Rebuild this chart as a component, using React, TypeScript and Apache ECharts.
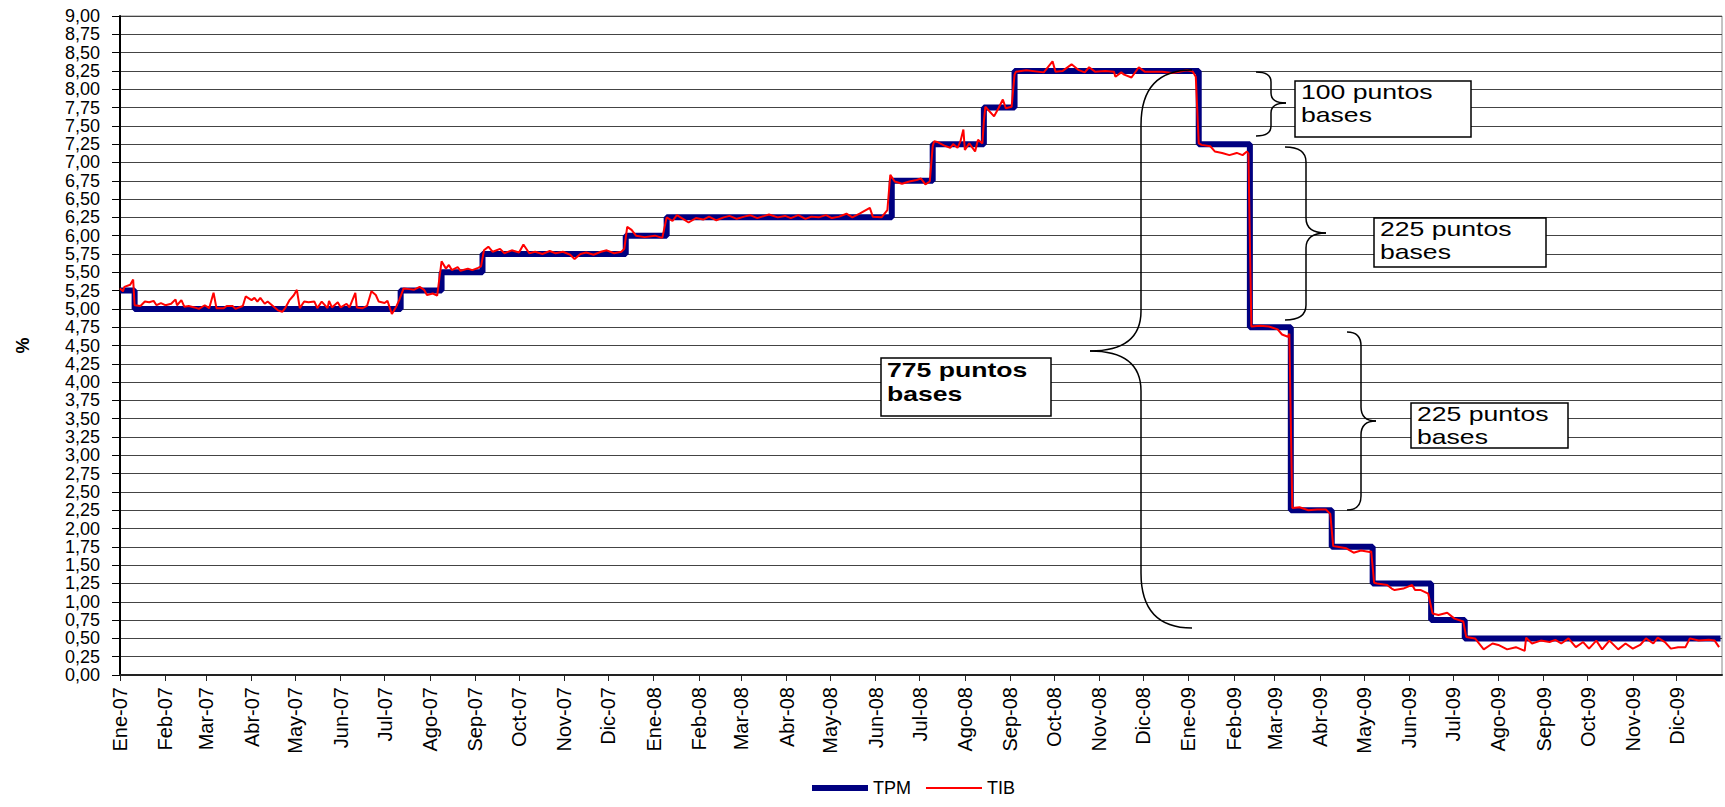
import React, { useEffect, useRef } from "react";
import * as echarts from "echarts";

const MONTHS = ["Ene", "Feb", "Mar", "Abr", "May", "Jun", "Jul", "Ago", "Sep", "Oct", "Nov", "Dic"];
const X_START = "2007-01-01";
const X_END = "2010-01-01";
const Y_MIN = 0;
const Y_MAX = 9;
const Y_STEP = 0.25;

// TPM (policy rate) change dates and values
const TPM_DATES = [
  "2007-01-01", "2007-01-11", "2007-07-12", "2007-08-09", "2007-09-06", "2007-12-13",
  "2008-01-10", "2008-06-12", "2008-07-10", "2008-08-14", "2008-09-04", "2009-01-08",
  "2009-02-12", "2009-03-12", "2009-04-09", "2009-05-07", "2009-06-16", "2009-07-09", "2009-12-31",
];
const TPM_VALUES = [
  5.25, 5.0, 5.25, 5.5, 5.75, 6.0,
  6.25, 6.75, 7.25, 7.75, 8.25, 7.25,
  4.75, 2.25, 1.75, 1.25, 0.75, 0.5, 0.5,
];

// TIB (interbank rate) readings
const TIB_DATES = [
  "2007-01-01", "2007-01-03", "2007-01-04", "2007-01-08", "2007-01-10", "2007-01-11", "2007-01-15", "2007-01-18",
  "2007-01-21", "2007-01-24", "2007-01-26", "2007-01-29", "2007-02-01", "2007-02-05", "2007-02-08", "2007-02-09",
  "2007-02-12", "2007-02-14", "2007-02-17", "2007-02-21", "2007-02-24", "2007-02-28", "2007-03-03", "2007-03-06",
  "2007-03-08", "2007-03-13", "2007-03-15", "2007-03-19", "2007-03-21", "2007-03-26", "2007-03-28", "2007-04-01",
  "2007-04-03", "2007-04-05", "2007-04-07", "2007-04-10", "2007-04-12", "2007-04-15", "2007-04-19", "2007-04-22",
  "2007-04-24", "2007-04-27", "2007-04-30", "2007-05-02", "2007-05-04", "2007-05-07", "2007-05-10", "2007-05-14",
  "2007-05-16", "2007-05-19", "2007-05-23", "2007-05-24", "2007-05-26", "2007-05-30", "2007-06-01", "2007-06-05",
  "2007-06-07", "2007-06-11", "2007-06-12", "2007-06-16", "2007-06-19", "2007-06-22", "2007-06-25", "2007-06-27",
  "2007-07-01", "2007-07-03", "2007-07-06", "2007-07-09", "2007-07-11", "2007-07-14", "2007-07-18", "2007-07-21",
  "2007-07-25", "2007-07-28", "2007-07-30", "2007-08-03", "2007-08-06", "2007-08-09", "2007-08-12", "2007-08-14",
  "2007-08-16", "2007-08-20", "2007-08-22", "2007-08-27", "2007-08-30", "2007-09-03", "2007-09-05", "2007-09-07",
  "2007-09-10", "2007-09-13", "2007-09-18", "2007-09-21", "2007-09-26", "2007-10-01", "2007-10-04", "2007-10-08",
  "2007-10-12", "2007-10-17", "2007-10-22", "2007-10-26", "2007-10-31", "2007-11-05", "2007-11-08", "2007-11-12",
  "2007-11-16", "2007-11-21", "2007-11-26", "2007-11-30", "2007-12-05", "2007-12-10", "2007-12-12", "2007-12-14",
  "2007-12-17", "2007-12-20", "2007-12-26", "2008-01-02", "2008-01-07", "2008-01-10", "2008-01-14", "2008-01-17",
  "2008-01-22", "2008-01-25", "2008-01-30", "2008-02-04", "2008-02-08", "2008-02-13", "2008-02-18", "2008-02-22",
  "2008-02-27", "2008-03-03", "2008-03-07", "2008-03-12", "2008-03-17", "2008-03-20", "2008-03-26", "2008-03-31",
  "2008-04-04", "2008-04-09", "2008-04-14", "2008-04-18", "2008-04-23", "2008-04-28", "2008-05-02", "2008-05-07",
  "2008-05-12", "2008-05-16", "2008-05-21", "2008-05-28", "2008-05-30", "2008-06-05", "2008-06-09", "2008-06-11",
  "2008-06-14", "2008-06-19", "2008-06-24", "2008-06-29", "2008-07-02", "2008-07-05", "2008-07-08", "2008-07-10",
  "2008-07-11", "2008-07-13", "2008-07-18", "2008-07-22", "2008-07-24", "2008-07-27", "2008-07-29", "2008-07-31",
  "2008-08-01", "2008-08-04", "2008-08-08", "2008-08-10", "2008-08-13", "2008-08-14", "2008-08-15", "2008-08-21",
  "2008-08-24", "2008-08-27", "2008-08-29", "2008-09-02", "2008-09-04", "2008-09-05", "2008-09-12", "2008-09-24",
  "2008-09-30", "2008-10-02", "2008-10-07", "2008-10-13", "2008-10-18", "2008-10-22", "2008-10-25", "2008-10-29",
  "2008-11-05", "2008-11-11", "2008-11-12", "2008-11-16", "2008-11-18", "2008-11-23", "2008-11-28", "2008-12-02",
  "2008-12-14", "2008-12-21", "2008-12-31", "2009-01-04", "2009-01-06", "2009-01-08", "2009-01-10", "2009-01-16",
  "2009-01-19", "2009-01-24", "2009-01-29", "2009-02-03", "2009-02-07", "2009-02-10", "2009-02-11", "2009-02-13",
  "2009-02-19", "2009-02-25", "2009-03-03", "2009-03-06", "2009-03-10", "2009-03-11", "2009-03-13", "2009-03-18",
  "2009-03-24", "2009-03-30", "2009-04-05", "2009-04-08", "2009-04-10", "2009-04-13", "2009-04-19", "2009-04-24",
  "2009-04-29", "2009-05-05", "2009-05-06", "2009-05-08", "2009-05-10", "2009-05-17", "2009-05-20", "2009-05-22",
  "2009-05-28", "2009-06-03", "2009-06-05", "2009-06-09", "2009-06-14", "2009-06-17", "2009-06-21", "2009-06-27",
  "2009-07-02", "2009-07-08", "2009-07-10", "2009-07-16", "2009-07-22", "2009-07-28", "2009-08-01", "2009-08-07",
  "2009-08-13", "2009-08-19", "2009-08-20", "2009-08-24", "2009-08-30", "2009-09-05", "2009-09-09", "2009-09-13",
  "2009-09-18", "2009-09-23", "2009-09-28", "2009-10-02", "2009-10-07", "2009-10-11", "2009-10-16", "2009-10-22",
  "2009-10-27", "2009-11-01", "2009-11-06", "2009-11-10", "2009-11-15", "2009-11-18", "2009-11-23", "2009-11-27",
  "2009-12-02", "2009-12-07", "2009-12-10", "2009-12-16", "2009-12-23", "2009-12-27", "2009-12-30",
];
const TIB_VALUES = [
  5.28, 5.24, 5.3, 5.33, 5.4, 5.05, 5.04, 5.1,
  5.09, 5.11, 5.05, 5.08, 5.05, 5.07, 5.13, 5.05,
  5.12, 5.03, 5.04, 5.02, 5.0, 5.05, 5.01, 5.22,
  5.01, 5.01, 5.04, 5.04, 5.0, 5.04, 5.17, 5.12,
  5.15, 5.1, 5.15, 5.07, 5.1, 5.05, 4.98, 4.96,
  5.01, 5.12, 5.19, 5.26, 5.01, 5.1, 5.09, 5.1,
  5.01, 5.1, 5.01, 5.11, 5.02, 5.09, 5.02, 5.07,
  5.02, 5.22, 5.02, 5.01, 5.04, 5.24, 5.19, 5.1,
  5.08, 5.11, 4.93, 5.03, 5.12, 5.28, 5.27, 5.26,
  5.3, 5.26, 5.19, 5.21, 5.18, 5.65, 5.55, 5.6,
  5.53, 5.57, 5.52, 5.55, 5.53, 5.56, 5.58, 5.8,
  5.85, 5.78, 5.82, 5.76, 5.8, 5.77, 5.88, 5.76,
  5.78, 5.75, 5.79, 5.76, 5.78, 5.74, 5.68, 5.75,
  5.77, 5.74, 5.78, 5.8, 5.76, 5.78, 5.82, 6.12,
  6.08, 6.0, 5.98, 6.0, 5.97, 6.25, 6.2, 6.28,
  6.22, 6.18, 6.24, 6.22, 6.26, 6.21, 6.25, 6.27,
  6.23, 6.26, 6.28, 6.24, 6.27, 6.29, 6.25, 6.27,
  6.24, 6.28, 6.23, 6.26, 6.25, 6.28, 6.24, 6.26,
  6.3, 6.25, 6.3, 6.38, 6.26, 6.25, 6.35, 6.83,
  6.74, 6.71, 6.74, 6.76, 6.78, 6.7, 6.74, 7.22,
  7.29, 7.28, 7.23, 7.2, 7.25, 7.2, 7.29, 7.45,
  7.17, 7.26, 7.15, 7.31, 7.26, 7.56, 7.76, 7.63,
  7.74, 7.86, 7.74, 7.76, 8.2, 8.24, 8.26, 8.23,
  8.38, 8.24, 8.25, 8.34, 8.26, 8.23, 8.3, 8.24,
  8.25, 8.24, 8.17, 8.23, 8.2, 8.16, 8.3, 8.24,
  8.24, 8.22, 8.26, 8.24, 8.17, 7.26, 7.24, 7.22,
  7.15, 7.13, 7.1, 7.13, 7.1, 7.15, 7.12, 4.76,
  4.77, 4.76, 4.72, 4.65, 4.62, 4.66, 2.28, 2.29,
  2.25, 2.26, 2.26, 2.2, 1.76, 1.75, 1.73, 1.67,
  1.7, 1.68, 1.69, 1.26, 1.25, 1.23, 1.18, 1.16,
  1.18, 1.23, 1.16, 1.16, 1.11, 0.84, 0.82, 0.85,
  0.77, 0.73, 0.52, 0.5, 0.35, 0.43, 0.41, 0.35,
  0.38, 0.33, 0.51, 0.43, 0.47, 0.45, 0.48, 0.43,
  0.5, 0.38, 0.45, 0.36, 0.47, 0.35, 0.47, 0.35,
  0.43, 0.36, 0.41, 0.5, 0.43, 0.51, 0.45, 0.36,
  0.38, 0.38, 0.5, 0.47, 0.48, 0.47, 0.38,
];

// Annotation texts
const NOTE_TEXTS = ["100 puntos\nbases", "225 puntos\nbases", "775 puntos\nbases", "225 puntos\nbases"];

const FONT = "Arial, 'Liberation Sans', Helvetica, sans-serif";

function pad(n: number): string {
  return n < 10 ? "0" + n : String(n);
}

// Daily category list spanning the axis range
function dayCategories(start: string, end: string): string[] {
  const [ys, ms, ds] = start.split("-").map(Number);
  const [ye, me, de] = end.split("-").map(Number);
  const cur = new Date(ys, ms - 1, ds, 12);
  const last = new Date(ye, me - 1, de, 12).getTime();
  const out: string[] = [];
  while (cur.getTime() <= last) {
    out.push(cur.getFullYear() + "-" + pad(cur.getMonth() + 1) + "-" + pad(cur.getDate()));
    cur.setDate(cur.getDate() + 1);
  }
  return out;
}

type Brace = { x0: number; yTop: number; yBot: number; xs: number; xt: number; ym: number; rEnd: number; rTip: number; w: number };

function braceElements(b: Brace): any[] {
  const style = { stroke: "#000", lineWidth: b.w, fill: null };
  const z = 50;
  return [
    { type: "bezierCurve", z, shape: { x1: b.x0, y1: b.yTop, cpx1: b.xs, cpy1: b.yTop, x2: b.xs, y2: b.yTop + b.rEnd }, style },
    { type: "line", z, shape: { x1: b.xs, y1: b.yTop + b.rEnd, x2: b.xs, y2: b.ym - b.rTip }, style },
    { type: "bezierCurve", z, shape: { x1: b.xs, y1: b.ym - b.rTip, cpx1: b.xs, cpy1: b.ym, x2: b.xt, y2: b.ym }, style },
    { type: "bezierCurve", z, shape: { x1: b.xt, y1: b.ym, cpx1: b.xs, cpy1: b.ym, x2: b.xs, y2: b.ym + b.rTip }, style },
    { type: "line", z, shape: { x1: b.xs, y1: b.ym + b.rTip, x2: b.xs, y2: b.yBot - b.rEnd }, style },
    { type: "bezierCurve", z, shape: { x1: b.xs, y1: b.yBot - b.rEnd, cpx1: b.xs, cpy1: b.yBot, x2: b.x0, y2: b.yBot }, style },
  ];
}

function noteBox(x: number, y: number, w: number, h: number, text: string, bold: boolean, lh: number): any[] {
  return [
    { type: "rect", z: 60, shape: { x, y, width: w, height: h }, style: { fill: "#fff", stroke: "#000", lineWidth: 1.5 } },
    {
      type: "text",
      z: 61,
      x: x + 6,
      y: y,
      scaleX: 1.33,
      style: {
        text,
        fontFamily: FONT,
        fontSize: 20,
        fontWeight: bold ? "bold" : "normal",
        lineHeight: lh,
        fill: "#000",
        verticalAlign: "top",
        align: "left",
      },
    },
  ];
}

export default function App() {
  const ref = useRef<HTMLDivElement>(null);

  useEffect(() => {
    document.body.style.margin = "0";
    const chart = echarts.init(ref.current!, null, { renderer: "svg" });
    const cats = dayCategories(X_START, X_END);
    const isMonthStart = (_i: number, v: string) => v.slice(8) === "01" && v < "2010-01-01";

    const graphics: any[] = [
      ...braceElements({ x0: 1192, yTop: 70, yBot: 628, xs: 1141, xt: 1090, ym: 351, rEnd: 55, rTip: 40, w: 1.5 }),
      ...braceElements({ x0: 1256, yTop: 72, yBot: 136, xs: 1271, xt: 1286, ym: 103, rEnd: 10, rTip: 10, w: 1.5 }),
      ...braceElements({ x0: 1285, yTop: 147, yBot: 320, xs: 1306, xt: 1326, ym: 233, rEnd: 15, rTip: 15, w: 1.5 }),
      ...braceElements({ x0: 1347, yTop: 332, yBot: 510, xs: 1361, xt: 1376, ym: 421, rEnd: 14, rTip: 14, w: 1.5 }),
      ...noteBox(1295, 81, 176, 56, NOTE_TEXTS[0], false, 23),
      ...noteBox(1374, 218, 172, 49, NOTE_TEXTS[1], false, 23),
      ...noteBox(881, 358, 170, 58, NOTE_TEXTS[2], true, 24),
      ...noteBox(1411, 403, 157, 45, NOTE_TEXTS[3], false, 23),
    ];

    chart.setOption({
      animation: false,
      backgroundColor: "#fff",
      textStyle: { fontFamily: FONT },
      grid: { left: 120, right: 3, top: 16, bottom: 132, show: true, borderColor: "#888", borderWidth: 1, containLabel: false },
      legend: {
        data: [
          { name: "TPM", lineStyle: { width: 6, color: "#000080" } },
          { name: "TIB", lineStyle: { width: 2, color: "#ff0000" } },
        ],
        left: 809,
        top: 779,
        padding: 0,
        itemWidth: 56,
        itemHeight: 14,
        itemGap: 14,
        itemStyle: { opacity: 0 },
        textStyle: { fontSize: 18, color: "#000", fontFamily: FONT },
      },
      xAxis: {
        type: "category",
        data: cats,
        boundaryGap: false,
        splitLine: { show: false },
        axisLine: { lineStyle: { color: "#222", width: 2 } },
        axisTick: { show: true, length: 6, lineStyle: { color: "#222" }, interval: isMonthStart },
        axisLabel: {
          interval: isMonthStart,
          rotate: 90,
          margin: 12,
          fontSize: 20,
          color: "#000",
          fontFamily: FONT,
          formatter: (v: string) => MONTHS[Number(v.slice(5, 7)) - 1] + "-" + v.slice(2, 4),
        },
      },
      yAxis: {
        type: "value",
        min: Y_MIN,
        max: Y_MAX,
        interval: Y_STEP,
        name: "%",
        nameLocation: "middle",
        nameRotate: 90,
        nameGap: 88,
        nameTextStyle: { fontSize: 18, fontWeight: "bold", color: "#000", fontFamily: FONT },
        axisLine: { show: true, lineStyle: { color: "#000", width: 2 } },
        axisTick: { show: true, length: 8, lineStyle: { color: "#000" } },
        axisLabel: {
          fontSize: 18,
          color: "#000",
          margin: 20,
          fontFamily: FONT,
          showMinLabel: true,
          showMaxLabel: true,
          hideOverlap: false,
          formatter: (v: number) => v.toFixed(2).replace(".", ","),
        },
        splitLine: { show: true, lineStyle: { color: "#444", width: 1 } },
      },
      series: [
        {
          name: "TPM",
          type: "line",
          step: "end",
          symbol: "none",
          z: 2,
          lineStyle: { color: "#000080", width: 6 },
          itemStyle: { color: "#000080" },
          data: TPM_DATES.map((d, i) => [d, TPM_VALUES[i]]),
        },
        {
          name: "TIB",
          type: "line",
          symbol: "none",
          z: 3,
          lineStyle: { color: "#ff0000", width: 2 },
          itemStyle: { color: "#ff0000" },
          data: TIB_DATES.map((d, i) => [d, TIB_VALUES[i]]),
        },
      ],
      graphic: { elements: graphics },
    });

    return () => chart.dispose();
  }, []);

  return <div ref={ref} style={{ position: "fixed", left: 0, top: 0, width: 1725, height: 807 }} />;
}
